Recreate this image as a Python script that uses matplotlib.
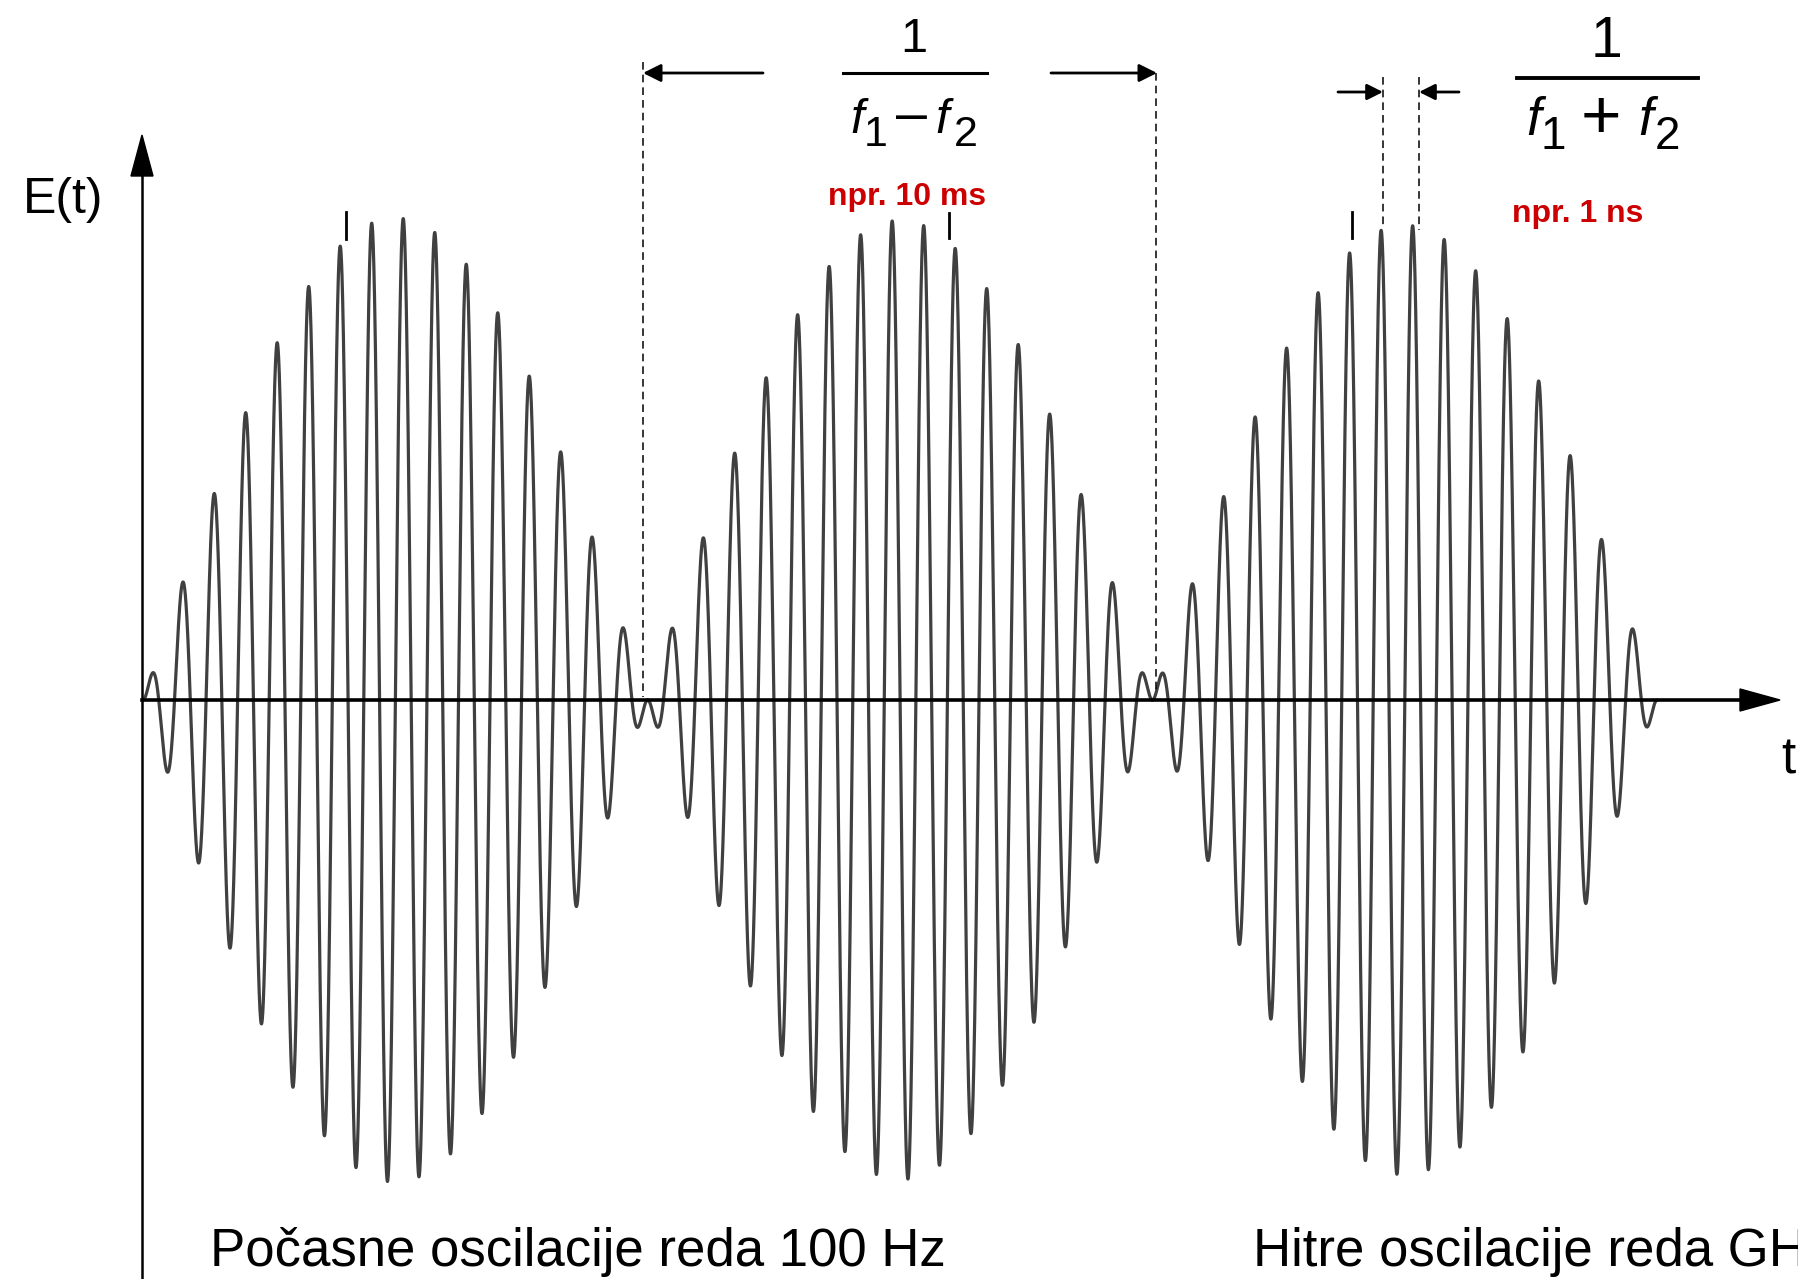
import numpy as np
import matplotlib.pyplot as plt

plt.rcParams['font.family'] = ['Liberation Sans', 'DejaVu Sans']

# beat signal: envelope half-period = 1 time unit, three lobes
lobe_amplitudes = [1.0, 0.995, 0.985]
carrier_cycles_per_lobe = 16

# labels
y_label = 'E(t)'
x_label = 't'
slow_label = 'Počasne oscilacije reda 100 Hz'
fast_label = 'Hitre oscilacije reda GHz'
slow_example = 'npr. 10 ms'
fast_example = 'npr. 1 ns'

fig = plt.figure(figsize=(17.99, 12.79), dpi=100)

# wave axes (time units / field units)
ax = fig.add_axes([0, 0, 1, 1])
ax.set_xlim(-0.2833, 3.2811)
ax.set_ylim(-1.2012, 1.4523)
ax.axis('off')

for i, amp in enumerate(lobe_amplitudes):
    tau = np.linspace(0, 1, 4000)
    e = ((-1) ** i) * amp * np.sin(np.pi * tau) * \
        np.sin(2 * np.pi * carrier_cycles_per_lobe * tau)
    ax.plot(i + tau, e, color='#404040', lw=2.3, solid_capstyle='round')

# overlay in pixel coordinates for axes arrows and annotations
ov = fig.add_axes([0, 0, 1, 1], facecolor='none')
ov.set_xlim(0, 1799)
ov.set_ylim(1279, 0)
ov.axis('off')

# axes
ov.plot([142, 142], [1279, 170], color='black', lw=1.8)
ov.fill([142, 131, 153], [135, 176, 176], color='black')
ov.plot([142, 1745], [700, 700], color='black', lw=2.6)
ov.fill([1780, 1740, 1740], [700, 689, 711], color='black')

ov.text(23, 213, y_label, fontsize=36, ha='left', va='baseline')
ov.text(1781, 773, x_label, fontsize=37, ha='left', va='baseline')

# dashed guide lines
dash = dict(color='black', lw=1.1, ls=(0, (5, 3.3)))
ov.plot([643, 643], [62, 697], **dash)
ov.plot([1156, 1156], [73, 690], **dash)
ov.plot([1383, 1383], [77, 225], **dash)
ov.plot([1419, 1419], [77, 230], **dash)

# small peak marks
for x, y0, y1 in [(346, 212, 239), (949, 213, 238), (1352, 212, 238)]:
    ov.plot([x, x], [y0, y1], color='black', lw=2)

# dimension arrows
arr = dict(arrowstyle='-|>', color='black', lw=2, mutation_scale=27,
           shrinkA=0, shrinkB=0)
ov.annotate('', xy=(643, 73), xytext=(763, 73), arrowprops=arr)
ov.annotate('', xy=(1157, 73), xytext=(1051, 73), arrowprops=arr)
arr_s = dict(arr, mutation_scale=24)
ov.annotate('', xy=(1383, 92), xytext=(1338, 92), arrowprops=arr_s)
ov.annotate('', xy=(1419, 92), xytext=(1459, 92), arrowprops=arr_s)

# fraction 1/(f1 - f2)
ov.text(914, 52, '1', fontsize=35, ha='center', va='baseline')
ov.plot([843, 987], [73, 73], color='black', lw=2.2)
ov.text(850, 133, 'f', fontsize=35, style='italic', ha='left', va='baseline')
ov.text(864, 146, '1', fontsize=31, ha='left', va='baseline')
ov.text(912, 131, '\u2013', fontsize=40, ha='center', va='baseline')
ov.text(935, 133, 'f', fontsize=35, style='italic', ha='left', va='baseline')
ov.text(954, 146, '2', fontsize=31, ha='left', va='baseline')

# fraction 1/(f1 + f2)
ov.text(1607, 57, '1', fontsize=41, ha='center', va='baseline')
ov.plot([1517, 1698], [78, 78], color='black', lw=2.8)
ov.text(1526, 135, 'f', fontsize=38, style='italic', ha='left', va='baseline')
ov.text(1541, 149, '1', fontsize=33, ha='left', va='baseline')
ov.text(1601, 138, '+', fontsize=50, ha='center', va='baseline')
ov.text(1638, 135, 'f', fontsize=38, style='italic', ha='left', va='baseline')
ov.text(1655, 149, '2', fontsize=33, ha='left', va='baseline')

# example values
ov.text(907, 205, slow_example, fontsize=23, fontweight='bold',
        color='#cc0000', ha='center', va='baseline')
ov.text(1578, 222, fast_example, fontsize=23, fontweight='bold',
        color='#cc0000', ha='center', va='baseline')

# bottom captions
ov.text(210, 1266, slow_label, fontsize=38, ha='left', va='baseline')
ov.text(1253, 1266, fast_label, fontsize=38, ha='left', va='baseline')

fig.savefig('out.png', dpi=100)
